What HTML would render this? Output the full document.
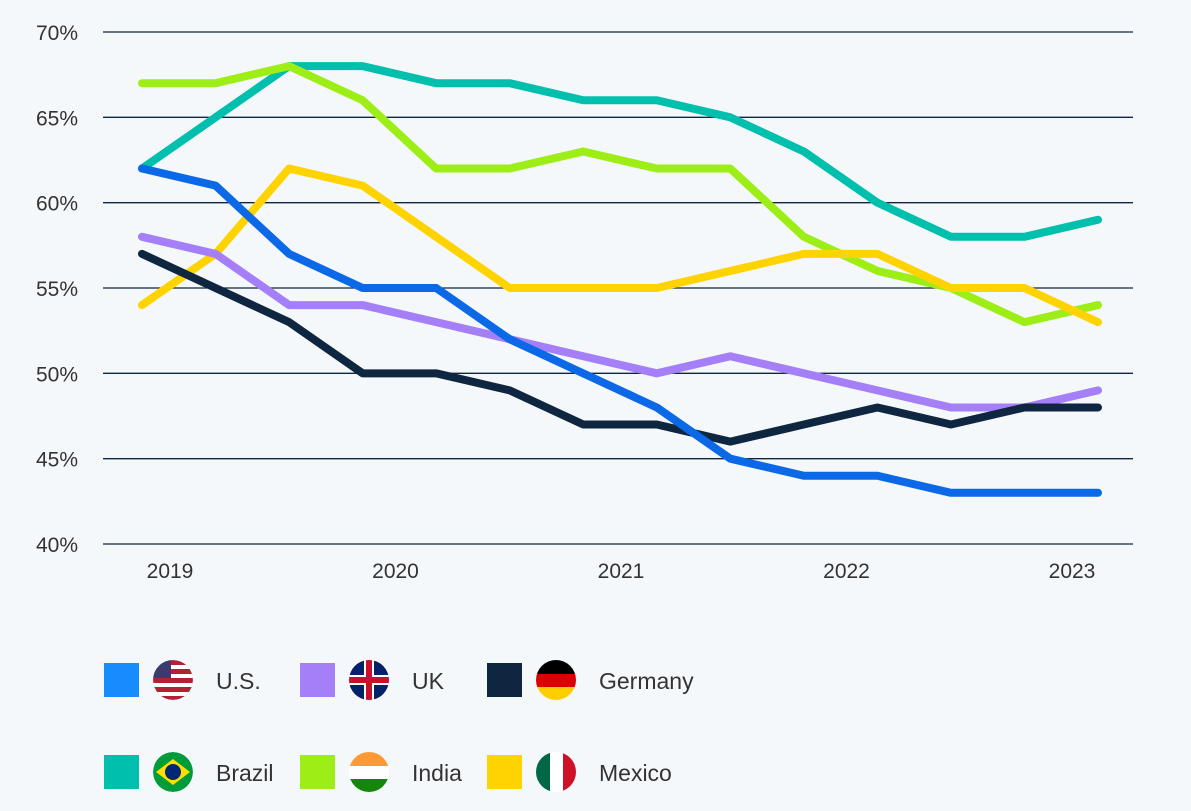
<!DOCTYPE html>
<html><head><meta charset="utf-8"><style>
body{margin:0;background:#f5f8fb;font-family:"Liberation Sans",sans-serif;}
svg text{font-family:"Liberation Sans",sans-serif;}
</style></head><body>
<svg id="chart" width="1191" height="806" xmlns="http://www.w3.org/2000/svg">
<rect width="1191" height="806" fill="#f5f8fb"/>
<defs id="defs"></defs>
<g id="grid"></g><g id="lines"></g><g id="legend"></g>
</svg>
<script>
const yTicks=[40,45,50,55,60,65,70];
const yearLabels=["2019","2020","2021","2022","2023"];
const seriesNames=["U.S.","UK","Germany","Brazil","India","Mexico"];
const usValues=[62,61,57,55,55,52,50,48,45,44,44,43,43,43];
const ukValues=[58,57,54,54,53,52,51,50,51,50,49,48,48,49];
const germanyValues=[57,55,53,50,50,49,47,47,46,47,48,47,48,48];
const brazilValues=[62,65,68,68,67,67,66,66,65,63,60,58,58,59];
const indiaValues=[67,67,68,66,62,62,63,62,62,58,56,55,53,54];
const mexicoValues=[54,57,62,61,58,55,55,55,56,57,57,55,55,53];
const NS="http://www.w3.org/2000/svg";
const colors=["#0b68e6","#a57ff8","#0f2640","#00bfad","#9ded16","#ffd300"];
const legendColors=["#168cff","#a57ff8","#0f2640","#00bfad","#9ded16","#ffd300"];
const drawOrder=[3,4,5,1,2,0];
const all=[usValues,ukValues,germanyValues,brazilValues,indiaValues,mexicoValues];
const y=v=>544-(v-40)*(512/30);
const x=i=>142+i*(956/13);
function mk(t,a,p){const e=document.createElementNS(NS,t);for(const k in a)e.setAttribute(k,a[k]);p.appendChild(e);return e;}
const grid=document.getElementById('grid');
yTicks.forEach(t=>{
 const l=mk('line',{x1:103,x2:1133,y1:y(t),y2:y(t),stroke:'#0f2640','stroke-width':1.3},grid);
 
 
 const tx=mk('text',{x:78,y:y(t)+8,'text-anchor':'end','font-size':21,fill:'#333'},grid);
 tx.textContent=t+'%';
 
 
});
yearLabels.forEach((s,i)=>{
 const tx=mk('text',{x:170+i*225.5,y:578,'text-anchor':'middle','font-size':21,fill:'#333'},grid);
 tx.textContent=s;
 
 
});
const lines=document.getElementById('lines');
drawOrder.forEach(k=>{
 const d=all[k].map((v,i)=>(i?'L':'M')+x(i)+' '+y(v)).join(' ');
 const p=mk('path',{d:d,fill:'none',stroke:colors[k],'stroke-width':8,'stroke-linejoin':'round','stroke-linecap':'round'},lines);
 
 
});
const flagColors=[["#b22234","#fff","#3c3b6e"],["#c8102e","#fff","#012169"],["#000","#dd0000","#ffce00"],["#009b3a","#fedf00","#002776"],["#ff9933","#fff","#138808"],["#006847","#fff","#ce1126"]];
const lg=document.getElementById('legend');
const defs=document.getElementById('defs');
seriesNames.forEach((n,i)=>{
 const cx=[104,300,487][i%3], cy=i<3?680:772;
 const g=mk('g',{},lg);
 
 
 mk('rect',{x:cx,y:cy-17,width:35,height:34,fill:legendColors[i]},g);
 const fx=cx+69,fc=flagColors[i];
 const cp=mk('clipPath',{id:'clip'+i},defs);
 mk('circle',{cx:fx,cy:cy,r:20},cp);
 const f=mk('g',{'clip-path':'url(#clip'+i+')'},g);
 if(i===2||i===4){
  mk('rect',{x:fx-20,y:cy-20,width:40,height:14,fill:fc[0]},f);
  mk('rect',{x:fx-20,y:cy-6,width:40,height:13,fill:fc[1]},f);
  mk('rect',{x:fx-20,y:cy+7,width:40,height:13,fill:fc[2]},f);
 }else if(i===5){
  mk('rect',{x:fx-20,y:cy-20,width:14,height:40,fill:fc[0]},f);
  mk('rect',{x:fx-6,y:cy-20,width:13,height:40,fill:fc[1]},f);
  mk('rect',{x:fx+7,y:cy-20,width:13,height:40,fill:fc[2]},f);
 }else{
  mk('circle',{cx:fx,cy:cy,r:20,fill:fc[0]},f);
  if(i===0){for(let s=0;s<4;s++)mk('rect',{x:fx-20,y:cy-15+s*9,width:40,height:4,fill:'#fff'},f);mk('rect',{x:fx-20,y:cy-20,width:18,height:18,fill:fc[2]},f);}
  if(i===1){mk('circle',{cx:fx,cy:cy,r:20,fill:fc[2]},f);mk('rect',{x:fx-20,y:cy-5,width:40,height:10,fill:'#fff'},f);mk('rect',{x:fx-5,y:cy-20,width:10,height:40,fill:'#fff'},f);mk('rect',{x:fx-20,y:cy-3,width:40,height:6,fill:fc[0]},f);mk('rect',{x:fx-3,y:cy-20,width:6,height:40,fill:fc[0]},f);}
  if(i===3){mk('polygon',{points:`${fx-17},${cy} ${fx},${cy-13} ${fx+17},${cy} ${fx},${cy+13}`,fill:fc[1]},f);mk('circle',{cx:fx,cy:cy,r:8,fill:fc[2]},f);}
 }
 const t=mk('text',{x:fx+43,y:cy+9,'font-size':23,fill:'#333'},g);
 t.textContent=n;
});
</script>
</body></html>
